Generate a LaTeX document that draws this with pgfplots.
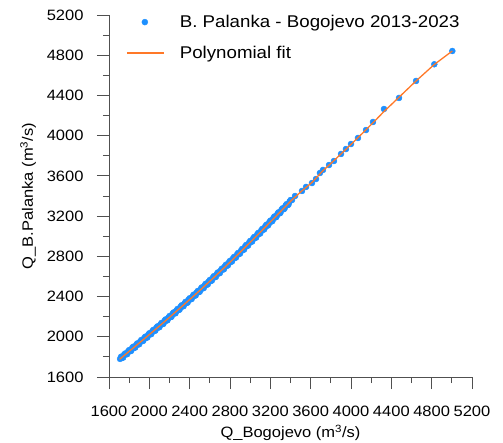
\documentclass[border=0pt]{standalone}
\usepackage{pgfplots}
\pgfplotsset{compat=1.18}
\usepackage{fontspec}
\setmainfont{Liberation Sans}[FakeStretch=1.1]

\definecolor{dotblue}{RGB}{30,144,255}
\definecolor{fitorange}{RGB}{255,120,40}
\definecolor{axgray}{RGB}{80,80,80}

\pgfplotsset{
  dotleg/.style={legend image code/.code={\path[draw=none,fill=none] (0pt,0pt) -- (52pt,0pt);\draw[##1] plot coordinates {(18pt,0pt)};}},
  lineleg/.style={legend image code/.code={\path[draw=none,fill=none] (0pt,0pt) -- (52pt,0pt);\draw[##1] (0pt,0pt) -- (37pt,0pt);}},
}

\begin{document}
\begin{tikzpicture}
\useasboundingbox (0,0) rectangle (503pt,442pt);
\begin{axis}[
  clip marker paths=true,
  at={(109pt,65pt)}, anchor=south west,
  width=363pt, height=362pt, scale only axis,
  xmin=1600, xmax=5200, ymin=1600, ymax=5200,
  xtick={1600,2000,...,5200}, ytick={1600,2000,...,5200},
  minor tick num=1,
  axis lines=left, axis line style={-, draw=axgray, line width=0.9pt},
  tick align=outside,
  major tick length=12pt, minor tick length=6pt,
  every tick/.style={draw=axgray, line width=0.9pt},
  /pgf/number format/1000 sep={},
  /pgf/number format/assume math mode=true,
  tick label style={font=\fontsize{15}{17}\selectfont, text=black},
  xticklabel style={anchor=center, yshift=-22pt},
  yticklabel style={anchor=east, xshift=-10pt},
  every axis x label/.style={at={(axis description cs:0.5,0)}, anchor=center, yshift=-56pt, font=\fontsize{15}{17}\selectfont},
  every axis y label/.style={at={(axis description cs:-0.223,0.5)}, rotate=90, anchor=center, font=\fontsize{15}{17}\selectfont},
  xlabel={Q\_Bogojevo (m\textsuperscript{3}/s)},
  ylabel={Q\_B.Palanka (m\textsuperscript{3}/s)},
  legend style={at={(rel axis cs:0,1)}, anchor=north west, xshift=14pt, yshift=3pt,
    draw=none, fill=none, font=\fontsize{17}{19}\selectfont, row sep=15pt,
    nodes={inner sep=1pt}},
  legend cell align=left,
]
\addplot[only marks, mark=*, mark size=3pt, color=dotblue, dotleg]
coordinates {
(1710,1780) (1730,1790) (1750,1822) (1770,1826) (1790,1855)
(1810,1857) (1830,1889) (1850,1890) (1870,1920) (1890,1924)
(1910,1953) (1930,1958) (1950,1988) (1970,1990) (1990,2020)
(2010,2025) (2030,2056) (2050,2060) (2070,2090) (2090,2092)
(2110,2122) (2130,2126) (2150,2158) (2170,2161) (2190,2191)
(2210,2195) (2230,2228) (2250,2232) (2270,2263) (2290,2266)
(2310,2298) (2330,2302) (2350,2334) (2370,2337) (2390,2369)
(2410,2372) (2430,2405) (2450,2408) (2470,2441) (2490,2444)
(2510,2477) (2530,2481) (2550,2514) (2570,2517) (2590,2550)
(2610,2555) (2630,2588) (2650,2592) (2670,2626) (2690,2630)
(2710,2663) (2730,2668) (2750,2702) (2770,2706) (2790,2740)
(2810,2745) (2830,2779) (2850,2784) (2870,2818) (2890,2823)
(2910,2857) (2930,2863) (2950,2898) (2970,2903) (2990,2937)
(3010,2944) (3030,2978) (3050,2983) (3070,3018) (3090,3024)
(3110,3058) (3130,3064) (3150,3099) (3170,3104) (3190,3139)
(3210,3146) (3230,3180) (3250,3187) (3270,3221) (3290,3227)
(3310,3262) (3330,3268) (3350,3302) (3370,3309) (3390,3343)
(1720,1802) (1740,1793) (1760,1834) (1780,1827) (1800,1868)
(1820,1860) (1840,1901) (1860,1893) (1880,1934) (1900,1926)
(1920,1968) (1940,1960) (1960,2001) (1980,1993) (2000,2035)
(2020,2027) (2040,2069) (2060,2061) (2080,2103) (2100,2095)
(2120,2137) (2140,2129) (2160,2172) (2180,2164) (2200,2206)
(2220,2199) (2240,2242) (2260,2234) (2280,2277) (2300,2270)
(2320,2313) (2340,2305) (2360,2348) (2380,2340) (2400,2383)
(2420,2376) (2440,2419) (2460,2412) (2480,2455) (2500,2448)
(2520,2491) (2540,2485) (2560,2528) (2580,2522) (2600,2565)
(2620,2559) (2640,2603) (2660,2596) (2680,2640) (2700,2634)
(2720,2678) (2740,2672) (2760,2717) (2780,2711) (2800,2755)
(2820,2750) (2840,2794) (2860,2789) (2880,2833) (2900,2828)
(2920,2873) (2940,2868) (2960,2913) (2980,2908) (3000,2953)
(3020,2948) (3040,2993) (3060,2988) (3080,3033) (3100,3028)
(3120,3073) (3140,3069) (3160,3114) (3180,3110) (3200,3155)
(3220,3150) (3240,3196) (3260,3191) (3280,3237) (3300,3232)
(3320,3277) (3340,3273) (3360,3318) (3380,3314) (3400,3359)
(3415,3360) (3445,3400) (3514,3450) (3554,3490) (3613,3529)
(3653,3569) (3692,3629) (3722,3659) (3782,3708) (3831,3748)
(3901,3818) (3950,3867) (4000,3917) (4069,3977) (4149,4056)
(4218,4136) (4327,4265) (4476,4375) (4645,4544) (4826,4710)
(5005,4842)
};
\addlegendentry{B. Palanka - Bogojevo 2013-2023}
\addplot[color=fitorange, line width=1.3pt, no marks, lineleg]
coordinates {
(1705,1776) (1800,1855) (1900,1938) (2000,2022) (2100,2107)
(2200,2193) (2300,2282) (2400,2370) (2500,2460) (2600,2552)
(2700,2646) (2800,2742) (2900,2840) (3000,2940) (3100,3040)
(3200,3142) (3300,3244) (3415,3362) (3514,3452) (3613,3535)
(3722,3652) (3831,3752) (3950,3865) (4069,3980) (4218,4128)
(4327,4240) (4476,4382) (4645,4544) (4826,4708) (5005,4842)
};
\addlegendentry{Polynomial fit}
\end{axis}
\end{tikzpicture}
\end{document}
